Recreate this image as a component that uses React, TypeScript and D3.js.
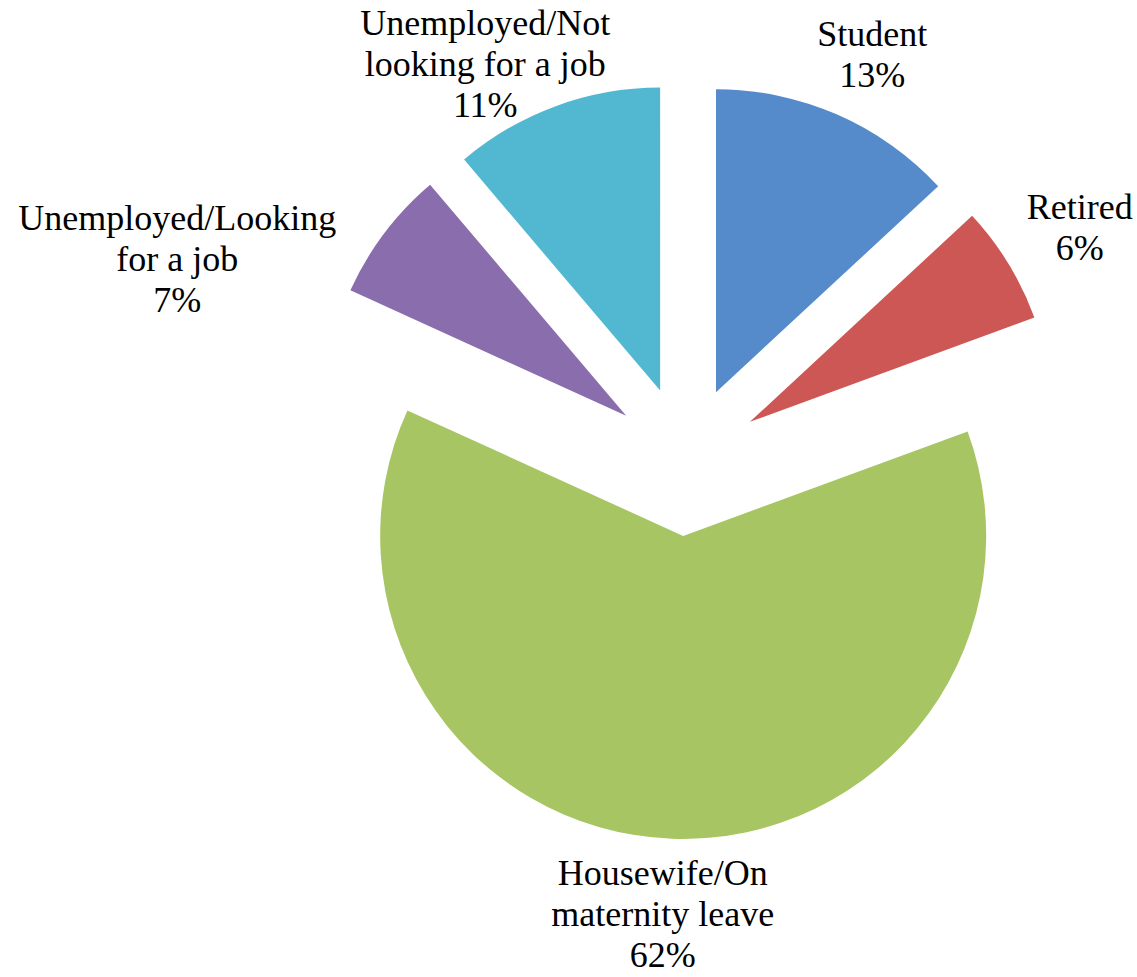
import React from "react";
import * as d3 from "d3";

// ---- data ----
const categories = [
  "Student",
  "Retired",
  "Housewife/On maternity leave",
  "Unemployed/Looking for a job",
  "Unemployed/Not looking for a job",
];
const values = [13.1, 6.3, 62.4, 7.0, 11.2];
const labelLines = [
  ["Student"],
  ["Retired"],
  ["Housewife/On", "maternity leave"],
  ["Unemployed/Looking", "for a job"],
  ["Unemployed/Not", "looking for a job"],
];
const colors = ["#558ACB", "#CD5754", "#A7C663", "#8A6DAD", "#52B8D1"];

// ---- layout ----
const W = 1137;
const H = 977;
const CX = 686;
const CY = 461;
const R = 303;
const EXPLODE = 75;
const LINE_H = 41;
// label distance from pie centre and angular nudge (degrees), mimicking Excel's placement
const labelDist = [436, 452, 466, 543, 434];
const labelNudge = [1.7, 2.1, 0.7, -16.6, -7.4];

export default function App() {
  const pie = d3
    .pie<number>()
    .sort(null)
    .value((d) => d)
    .startAngle(0)
    .endAngle(2 * Math.PI);
  const arcs = pie(values);
  const arcGen = d3.arc<d3.PieArcDatum<number>>().innerRadius(0).outerRadius(R);
  const total = d3.sum(values);

  return (
    <svg
      width={W}
      height={H}
      style={{ position: "absolute", left: 0, top: 0, display: "block", background: "#fff" }}
    >
      <g transform={`translate(${CX},${CY})`}>
        {arcs.map((a, i) => {
          const mid = (a.startAngle + a.endAngle) / 2;
          const ox = Math.sin(mid) * EXPLODE;
          const oy = -Math.cos(mid) * EXPLODE;
          return (
            <path
              key={categories[i]}
              d={arcGen(a) || ""}
              transform={`translate(${ox},${oy})`}
              fill={colors[i]}
            />
          );
        })}
        {arcs.map((a, i) => {
          const mid = (a.startAngle + a.endAngle) / 2 + (labelNudge[i] * Math.PI) / 180;
          const lx = Math.sin(mid) * labelDist[i];
          const ly = -Math.cos(mid) * labelDist[i];
          const lines = [...labelLines[i], `${Math.round((values[i] / total) * 100)}%`];
          const first = ly - ((lines.length - 1) * LINE_H) / 2;
          return (
            <text
              key={"l" + i}
              x={lx}
              y={first}
              textAnchor="middle"
              fontFamily="'Liberation Serif', 'DejaVu Serif', serif"
              fontSize={36}
              fill="#000"
            >
              {lines.map((t, j) => (
                <tspan key={j} x={lx} y={first + j * LINE_H}>
                  {t}
                </tspan>
              ))}
            </text>
          );
        })}
      </g>
    </svg>
  );
}
